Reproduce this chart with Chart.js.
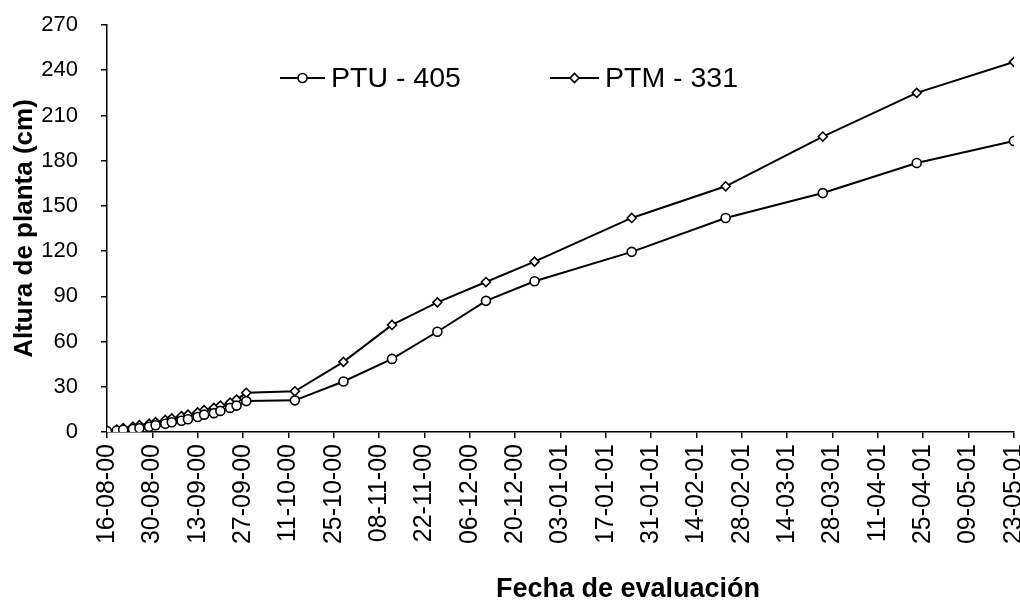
<!DOCTYPE html>
<html>
<head>
<meta charset="utf-8">
<script src="https://cdn.jsdelivr.net/npm/chart.js@4"></script>
<style>
  html, body { margin: 0; background: #fff; }
</style>
</head>
<body>
<canvas id="growthChart" width="1020" height="610"></canvas>
<script>
// Days since first evaluation (16-08-00)
const evalDays = [0, 3, 5, 8, 10, 13, 15, 18, 20, 23, 25, 28, 30, 33, 35, 38, 40, 43,
  58, 73, 88, 102, 117, 132, 162, 191, 221, 250, 280];

// Plant height (cm)
const ptuValues = [0.5, 1, 1.5, 2, 2.5, 3.5, 4.5, 5.5, 6.5, 7.5, 8.5, 10, 11.5, 12.5, 14, 16, 17.5, 20.5,
  21, 33.5, 48.5, 66.5, 87, 100, 119.5, 142, 158.5, 178.5, 193];
const ptmValues = [1, 1.5, 2.5, 3.5, 4.5, 5.5, 6.5, 8, 9, 10.5, 11.5, 13, 14.5, 16, 17.5, 19.5, 21.5, 26,
  27, 46.5, 71, 86, 99.5, 113, 142, 163, 196, 225, 245.5];

const seriesNames = ['PTU - 405', 'PTM - 331'];

// Tick labels, one every 14 days
const dateLabels = ['16-08-00', '30-08-00', '13-09-00', '27-09-00', '11-10-00', '25-10-00',
  '08-11-00', '22-11-00', '06-12-00', '20-12-00', '03-01-01', '17-01-01', '31-01-01',
  '14-02-01', '28-02-01', '14-03-01', '28-03-01', '11-04-01', '25-04-01', '09-05-01', '23-05-01'];

const FONT = "'Liberation Sans', Arial, sans-serif";

const toPoints = vals => vals.map((v, i) => ({ x: evalDays[i], y: v }));

// Legend drawn inside the plot (line + marker + text) and the x axis title
const overlayPlugin = {
  id: 'overlay',
  afterDraw(chart) {
    const ctx = chart.ctx;
    const items = [
      { x1: 280, x2: 325, ds: chart.data.datasets[0] },
      { x1: 550, x2: 599, ds: chart.data.datasets[1] }
    ];
    const y = 78;
    ctx.save();
    items.forEach(it => {
      ctx.strokeStyle = '#000';
      ctx.lineWidth = 2;
      ctx.beginPath();
      ctx.moveTo(it.x1, y);
      ctx.lineTo(it.x2, y);
      ctx.stroke();
      ctx.fillStyle = '#fff';
      ctx.lineWidth = it.ds.pointBorderWidth;
      Chart.helpers.drawPoint(ctx, {
        pointStyle: it.ds.pointStyle,
        radius: it.ds.pointRadius,
        borderWidth: it.ds.pointBorderWidth
      }, (it.x1 + it.x2) / 2, y);
      ctx.fillStyle = '#000';
      ctx.font = '28.5px ' + FONT;
      ctx.textBaseline = 'middle';
      ctx.textAlign = 'left';
      ctx.fillText(it.ds.label, it.x2 + 6, y + 1);
    });
    ctx.font = 'bold 27px ' + FONT;
    ctx.textAlign = 'center';
    ctx.fillText('Fecha de evaluación', 628, 590);
    ctx.restore();
  }
};

new Chart(document.getElementById('growthChart'), {
  type: 'line',
  data: {
    datasets: [
      {
        label: seriesNames[0],
        data: toPoints(ptuValues),
        borderColor: '#000',
        borderWidth: 2,
        pointStyle: 'circle',
        pointRadius: 4.5,
        pointBorderWidth: 1.6,
        pointBackgroundColor: '#fff',
        pointBorderColor: '#000',
        tension: 0
      },
      {
        label: seriesNames[1],
        data: toPoints(ptmValues),
        borderColor: '#000',
        borderWidth: 2,
        pointStyle: 'rectRot',
        pointRadius: 4.5,
        pointBorderWidth: 1.6,
        pointBackgroundColor: '#fff',
        pointBorderColor: '#000',
        tension: 0
      }
    ]
  },
  options: {
    responsive: false,
    animation: false,
    layout: { padding: { top: 25, right: 6, left: 0, bottom: 0 } },
    plugins: {
      legend: { display: false },
      tooltip: { enabled: false }
    },
    scales: {
      x: {
        type: 'linear',
        min: 0,
        max: 280,
        afterBuildTicks: scale => {
          scale.ticks = dateLabels.map((_, i) => ({ value: i * 14 }));
        },
        afterFit: scale => {
          scale.height = 178;
          scale.paddingLeft = 0;
          scale.paddingRight = 0;
          scale.paddingTop = 0;
          scale.paddingBottom = 0;
        },
        ticks: {
          autoSkip: false,
          minRotation: 90,
          maxRotation: 90,
          padding: 6,
          color: '#000',
          font: { family: FONT, size: 25 },
          callback: (v) => dateLabels[Math.round(v / 14)]
        },
        grid: { drawOnChartArea: false, drawTicks: true, tickLength: 6, color: '#000', lineWidth: 1.5 },
        border: { color: '#000', width: 1.5 },
        title: { display: false }
      },
      y: {
        min: 0,
        max: 270,
        afterFit: scale => {
          scale.width = 107;
          scale.paddingTop = 0;
          scale.paddingBottom = 0;
        },
        ticks: {
          stepSize: 30,
          padding: 23,
          color: '#000',
          font: { family: FONT, size: 22 }
        },
        grid: { drawOnChartArea: false, drawTicks: true, tickLength: 6, color: '#000', lineWidth: 1.5 },
        border: { color: '#000', width: 1.5 },
        title: {
          display: true,
          text: 'Altura de planta (cm)',
          color: '#000',
          font: { family: FONT, size: 26, weight: 'bold' },
          padding: { top: 9, bottom: 0 }
        }
      }
    }
  },
  plugins: [overlayPlugin]
});
</script>
</body>
</html>
